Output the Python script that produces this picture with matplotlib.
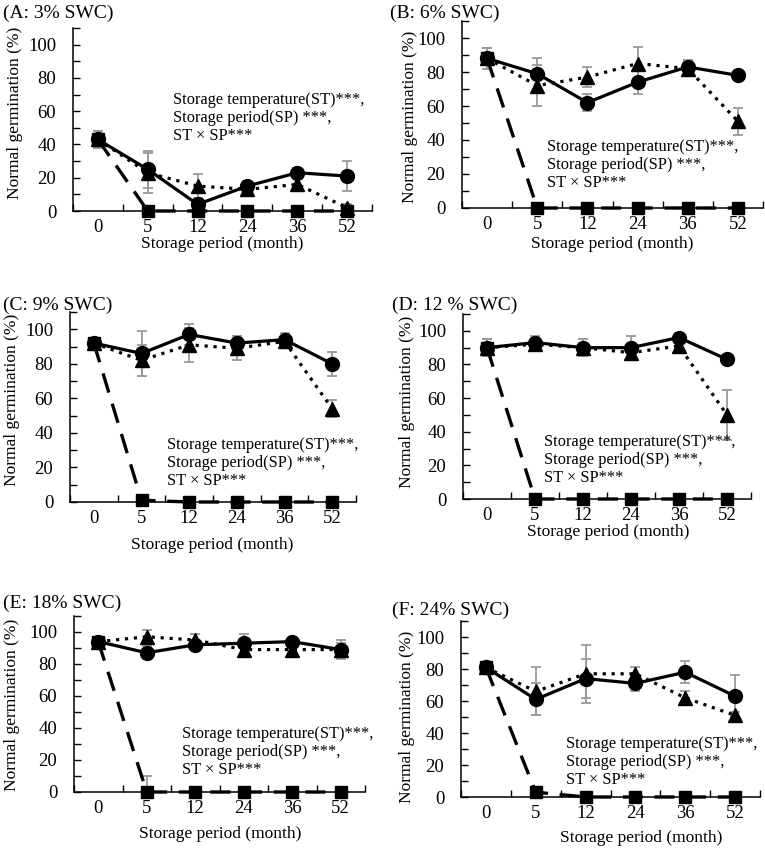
import matplotlib
matplotlib.use("Agg")
import matplotlib.pyplot as plt
import numpy as np

plt.rcParams['font.family'] = ['Liberation Serif', 'DejaVu Serif']

months = ['0', '5', '12', '24', '36', '52']

A_circle = [43, 25, 4, 15, 23, 21]
A_circle_err = [5, 11, 4, 3, 3, 9]
A_tri = [43, 23, 15, 13, 16, 2]
A_tri_err = [5, 12, 7, 3, 4, 2]
A_sq = [43, 0, 0, 0, 0, 0]
A_sq_err = [5, 0, 0, 0, 0, 0]

B_circle = [88, 79, 62, 74, 83, 78]
B_circle_err = [6, 9, 5, 7, 4, 1]
B_tri = [88, 72, 77, 85, 82, 51]
B_tri_err = [6, 12, 6, 10, 4, 8]
B_sq = [88, 0, 0, 0, 0, 0]
B_sq_err = [6, 0, 0, 0, 0, 0]

C_circle = [92, 86, 97, 92, 94, 80]
C_circle_err = [2, 13, 6, 4, 4, 7]
C_tri = [92, 82, 91, 89, 93, 54]
C_tri_err = [2, 9, 10, 7, 3, 5]
C_sq = [92, 1, 0, 0, 0, 0]
C_sq_err = [2, 0, 0, 0, 0, 0]

D_circle = [90, 93, 90, 90, 96, 83]
D_circle_err = [5, 4, 5, 7, 3, 1]
D_tri = [90, 92, 90, 87, 91, 50]
D_tri_err = [5, 3, 3, 3, 3, 15]
D_sq = [90, 0, 0, 0, 0, 0]
D_sq_err = [5, 0, 0, 0, 0, 0]

E_circle = [94, 87, 92, 93, 94, 89]
E_circle_err = [1, 4, 3, 6, 1, 6]
E_tri = [94, 97, 95, 89, 89, 89]
E_tri_err = [1, 4, 4, 3, 2, 4]
E_sq = [94, 0, 0, 0, 0, 0]
E_sq_err = [0, 10, 0, 0, 0, 0]

F_circle = [81, 61, 74, 71, 78, 63]
F_circle_err = [3, 10, 12, 5, 7, 13]
F_tri = [81, 66, 77, 77, 62, 51]
F_tri_err = [3, 15, 18, 4, 4, 2]
F_sq = [81, 3, 0, 0, 0, 0]
F_sq_err = [3, 0, 0, 0, 0, 0]

titles = ['(A: 3% SWC)', '(B: 6% SWC)', '(C: 9% SWC)',
          '(D: 12 % SWC)', '(E: 18% SWC)', '(F: 24% SWC)']
stats_text = 'Storage temperature(ST)***,\nStorage period(SP) ***,\nST × SP***'
xlabel_text = 'Storage period (month)'
ylabel_text = 'Normal germination (%)'

W, H = 765, 850
fig = plt.figure(figsize=(W / 100, H / 100), dpi=100)

def fx(px):
    return px / W

def fy(py):
    return 1 - py / H

# layout in pixels: (left, right, y0_px, top_px)
panels = [
    dict(data=(A_circle, A_circle_err, A_tri, A_tri_err, A_sq, A_sq_err),
         box=(73, 372, 211, 28), title=(3, 13), ylab=(15, 113), xlab=(222, 244),
         stats=(173, 118)),
    dict(data=(B_circle, B_circle_err, B_tri, B_tri_err, B_sq, B_sq_err),
         box=(462, 763, 208, 21), title=(390, 13), ylab=(410, 117), xlab=(612, 244),
         stats=(547, 165)),
    dict(data=(C_circle, C_circle_err, C_tri, C_tri_err, C_sq, C_sq_err),
         box=(70, 356, 502, 312), title=(3, 305), ylab=(12, 400), xlab=(212, 545),
         stats=(167, 463)),
    dict(data=(D_circle, D_circle_err, D_tri, D_tri_err, D_sq, D_sq_err),
         box=(463, 751, 499, 314), title=(392, 305), ylab=(407, 402), xlab=(608, 532),
         stats=(544, 460)),
    dict(data=(E_circle, E_circle_err, E_tri, E_tri_err, E_sq, E_sq_err),
         box=(74, 365, 792, 616), title=(3, 603), ylab=(12, 705), xlab=(220, 834),
         stats=(182, 752)),
    dict(data=(F_circle, F_circle_err, F_tri, F_tri_err, F_sq, F_sq_err),
         box=(461, 760, 797, 621), title=(392, 610), ylab=(407, 717), xlab=(641, 838),
         stats=(566, 762)),
]

x = np.arange(len(months))
grey = '#9a9a9a'

for i, p in enumerate(panels):
    l, r, y0, top = p['box']
    ax = fig.add_axes([fx(l), fy(y0), (r - l) / W, (y0 - top) / H])
    circ, circ_e, tri, tri_e, sq, sq_e = p['data']

    for vals, errs in ((circ, circ_e), (tri, tri_e), (sq, sq_e)):
        ax.errorbar(x, vals, yerr=errs, fmt='none', ecolor=grey,
                    elinewidth=1.3, capsize=3.5, capthick=1.3, zorder=2)

    ax.plot(x, tri, linestyle=(0, (1, 1.8)), color='black', lw=2.3,
            marker='^', markersize=9.5, zorder=3, clip_on=False)
    ax.plot(x, circ, linestyle='-', color='black', lw=2.3,
            marker='o', markersize=10, zorder=4, clip_on=False)
    ax.plot(x, sq, linestyle=(0, (6, 3.5)), color='black', lw=2.4,
            marker='s', markersize=9, zorder=5, clip_on=False)

    ax.set_xlim(-0.5, 5.5)
    ax.set_ylim(0, 110)
    ax.set_yticks(np.arange(0, 111, 10))
    ax.set_yticklabels([str(v) if v % 20 == 0 and v <= 100 else '' for v in range(0, 111, 10)])
    ax.set_xticks(np.arange(-0.5, 5.6, 1.0))
    ax.set_xticklabels([])
    ax.set_xticks(x, minor=True)
    ax.set_xticklabels(months, minor=True)
    ax.tick_params(axis='x', which='major', direction='in', length=5, width=1)
    ax.tick_params(axis='x', which='minor', length=0, pad=6, labelsize=13.5)
    ax.tick_params(axis='y', direction='in', length=5, width=1, pad=12, labelsize=13.5)
    for s in ('top', 'right'):
        ax.spines[s].set_visible(False)
    for s in ('left', 'bottom'):
        ax.spines[s].set_linewidth(1.1)
    ax.patch.set_alpha(0)

    tx, ty = p['title']
    fig.text(fx(tx), fy(ty), titles[i], fontsize=14, ha='left', va='center')
    yx, yy = p['ylab']
    fig.text(fx(yx), fy(yy), ylabel_text, fontsize=12.5, rotation=90,
             ha='center', va='center')
    xx, xy = p['xlab']
    fig.text(fx(xx), fy(xy), xlabel_text, fontsize=12.5, ha='center', va='center')
    sx, sy = p['stats']
    fig.text(fx(sx), fy(sy), stats_text, fontsize=11.8, ha='left', va='center',
             linespacing=1.17)

fig.savefig('out.png', dpi=100)
